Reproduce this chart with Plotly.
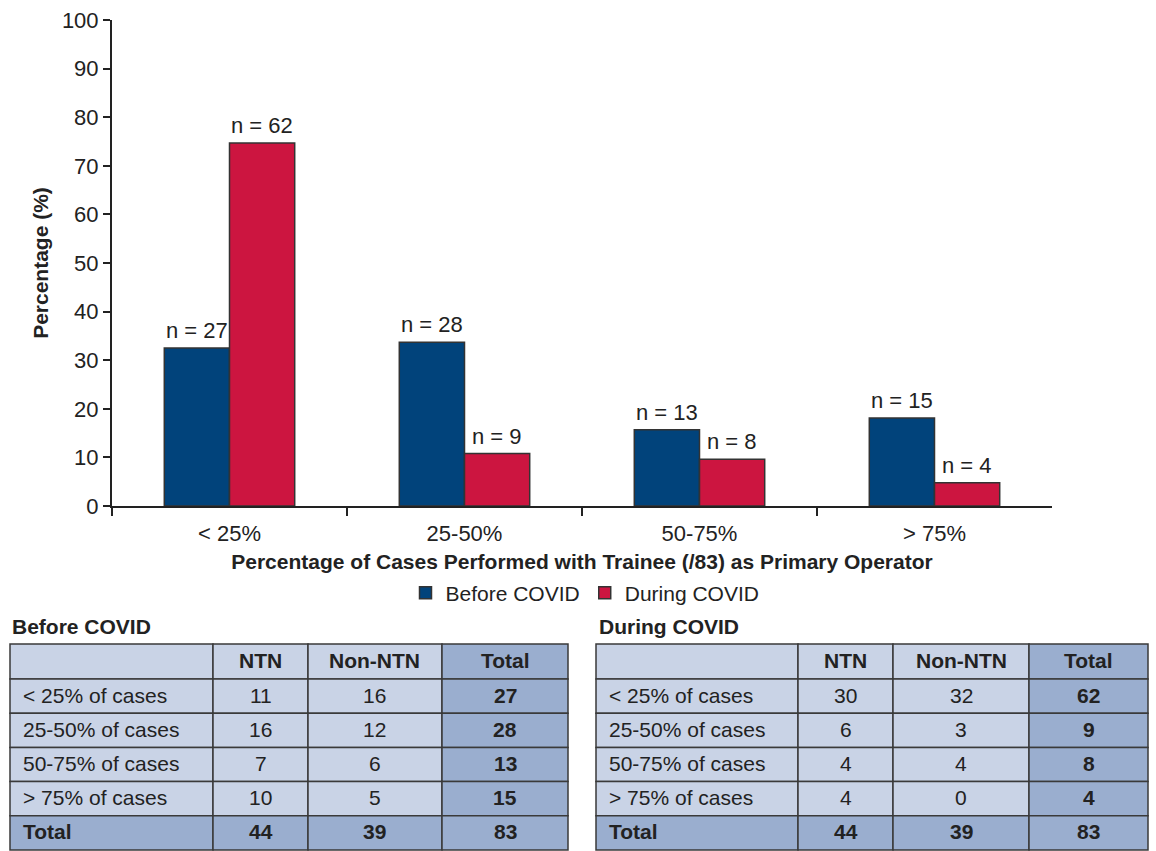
import plotly.graph_objects as go

W, H = 1156, 851

categories = ["< 25%", "25-50%", "50-75%", "> 75%"]
before_pct = [32.5, 33.7, 15.7, 18.1]
during_pct = [74.7, 10.8, 9.6, 4.8]
before_n = [27, 28, 13, 15]
during_n = [62, 9, 8, 4]

row_labels = ["< 25% of cases", "25-50% of cases", "50-75% of cases", "> 75% of cases"]
before_ntn = [11, 16, 7, 10]
before_non = [16, 12, 6, 5]
before_tot = [27, 28, 13, 15]
during_ntn = [30, 6, 4, 4]
during_non = [32, 3, 4, 0]
during_tot = [62, 9, 8, 4]
col_headers = ["", "NTN", "Non-NTN", "Total"]

BLUE = "#01437b"
RED = "#cc1540"
LIGHT = "#c9d3e6"
DARK = "#9aaecf"
TXT = "#222222"
BORDER = "#3a3a3a"
FONT = "Liberation Sans, Arial, Helvetica, sans-serif"
FS = 21


def px_x(x):
    return x / W


def px_y(y):
    return max(0.0, min(1.0, 1 - y / H))


fig = go.Figure()
fig.add_trace(go.Bar(
    x=categories, y=before_pct, name="Before COVID",
    marker=dict(color=BLUE, line=dict(color="#333333", width=1.5)),
))
fig.add_trace(go.Bar(
    x=categories, y=during_pct, name="During COVID",
    marker=dict(color=RED, line=dict(color="#333333", width=1.5)),
))

# bar labels
bar_w_px = (1052 - 112) / len(categories) * (1 - 0.445) / 2
annotations = []
for cat, yb, nb, yd, nd in zip(categories, before_pct, before_n, during_pct, during_n):
    for yv, nv, sh in ((yb, nb, -bar_w_px / 2), (yd, nd, bar_w_px / 2)):
        annotations.append(dict(
            x=cat, y=yv, xref="x", yref="y", text=f"n = {nv}", showarrow=False,
            xanchor="center", yanchor="bottom", xshift=sh, yshift=3,
            font=dict(size=22, color=TXT, family=FONT)))

shapes = []


def draw_table(title, ntn, non, tot, col_edges, title_x):
    row_edges = [644, 679, 713.2, 747.4, 781.6, 815.8, 850]
    n = len(ntn)
    header = [""] + [f"<b>{h}</b>" for h in col_headers[1:]]
    rows = [header]
    for i in range(n):
        rows.append([row_labels[i], str(ntn[i]), str(non[i]), f"<b>{tot[i]}</b>"])
    rows.append(["<b>Total</b>", f"<b>{sum(ntn)}</b>", f"<b>{sum(non)}</b>", f"<b>{sum(tot)}</b>"])
    for r, row in enumerate(rows):
        y0, y1 = row_edges[r], row_edges[r + 1]
        for c, txt in enumerate(row):
            x0, x1 = col_edges[c], col_edges[c + 1]
            dark = (c == 3) or (r == len(rows) - 1)
            shapes.append(dict(
                type="rect", xref="paper", yref="paper",
                x0=px_x(x0), x1=px_x(x1), y0=px_y(y1), y1=px_y(y0),
                fillcolor=DARK if dark else LIGHT,
                line=dict(color=BORDER, width=1.5), layer="below"))
            if txt:
                if c == 0:
                    ax, anc = x0 + 11, "left"
                else:
                    ax, anc = (x0 + x1) / 2, "center"
                annotations.append(dict(
                    text=txt, x=px_x(ax), y=px_y((y0 + y1) / 2 - 1), xref="paper", yref="paper",
                    xanchor=anc, yanchor="middle", showarrow=False,
                    font=dict(size=FS, color=TXT, family=FONT)))
    annotations.append(dict(
        text=f"<b>{title}</b>", x=px_x(title_x), y=px_y(626), xref="paper", yref="paper",
        xanchor="left", yanchor="middle", showarrow=False,
        font=dict(size=FS, color=TXT, family=FONT)))


draw_table("Before COVID", before_ntn, before_non, before_tot, [10, 213, 308, 442, 568], 10)
draw_table("During COVID", during_ntn, during_non, during_tot, [596, 798, 893, 1029, 1148], 597)

fig.update_layout(
    width=W, height=H,
    margin=dict(l=0, r=0, t=0, b=0),
    paper_bgcolor="white", plot_bgcolor="rgba(0,0,0,0)",
    font=dict(family=FONT, size=FS, color=TXT),
    barmode="group", bargap=0.445, bargroupgap=0,
    showlegend=True,
    legend=dict(orientation="h", x=px_x(585), xanchor="center", y=px_y(593), yanchor="middle",
                font=dict(size=21, color=TXT, family=FONT), itemwidth=30,
                bgcolor="rgba(0,0,0,0)"),
    xaxis=dict(
        domain=[px_x(112), px_x(1052)], anchor="y",
        showline=True, linecolor="#222222", linewidth=2,
        ticks="outside", tickson="boundaries", ticklen=8, tickwidth=2, tickcolor="#222222",
        tickfont=dict(size=22, color=TXT, family=FONT), ticklabelstandoff=7,
        title=dict(text="<b>Percentage of Cases Performed with Trainee (/83) as Primary Operator</b>",
                   font=dict(size=FS, color=TXT, family=FONT), standoff=9),
        showgrid=False, zeroline=False, automargin=False,
    ),
    yaxis=dict(
        domain=[px_y(506), px_y(20)], anchor="x",
        range=[0, 100], dtick=10,
        showline=True, linecolor="#222222", linewidth=2,
        ticks="outside", ticklen=7, tickwidth=2, tickcolor="#222222",
        tickfont=dict(size=22, color=TXT, family=FONT), ticklabelstandoff=0,
        title=dict(text="<b>Percentage (%)</b>", font=dict(size=FS, color=TXT, family=FONT), standoff=8),
        showgrid=False, zeroline=False, automargin=False,
    ),
    shapes=shapes,
    annotations=annotations,
)

fig.write_html("out.html")
